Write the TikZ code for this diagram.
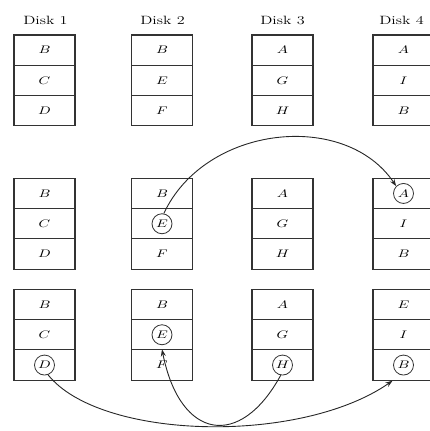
\documentclass[tikz,border=0pt]{standalone}
\usepackage{graphicx}
\usetikzlibrary{arrows.meta}

% widened lettering used throughout
\newcommand\widetext[1]{\scalebox{1.35}[1]{#1}}
\newcommand\lt[1]{\widetext{$#1$}}

\tikzset{
  cell/.style={draw=black!80, line width=1.1pt, minimum width=61pt,
    minimum height=30.3pt, inner sep=0pt,
    font=\fontsize{10.5}{12}\selectfont, text=black},
  ring/.style={circle, draw=black!80, line width=0.8pt, minimum size=20pt,
    inner sep=0pt, font=\fontsize{10.5}{12}\selectfont, text=black},
  disklabel/.style={font=\fontsize{12}{14}\selectfont, text=black},
  link/.style={draw=black!85, line width=0.9pt,
    -{Stealth[length=7pt,width=5pt]}}
}

\begin{document}
\begin{tikzpicture}[x=1pt,y=-1pt]
\clip (0,0) rectangle (430,431);

% disk headers
\foreach \c/\x in {1/45.5,2/162.5,3/282.5,4/401.5}
  \node[disklabel] (h\c) at (\x,20) {\widetext{Disk \c}};

% initial layout
\foreach \c/\x/\p/\q/\r in {1/44.5/B/C/D, 2/162/B/E/F, 3/282.5/A/G/H, 4/403.5/A/I/B} {
  \node[cell] (t\c a) at (\x,50.15)  {\lt{\p}};
  \node[cell] (t\c b) at (\x,80.45)  {\lt{\q}};
  \node[cell] (t\c c) at (\x,110.75) {\lt{\r}};
}

% second layout: E on disk 2 copied to disk 4
\foreach \c/\x/\p/\q/\r in {1/44.5/B/C/D, 3/282.5/A/G/H} {
  \node[cell] (m\c a) at (\x,193.45) {\lt{\p}};
  \node[cell] (m\c b) at (\x,223.75) {\lt{\q}};
  \node[cell] (m\c c) at (\x,254.05) {\lt{\r}};
}
\node[cell] (m2a) at (162,193.45) {\lt{B}};
\node[cell] (m2b) at (162,223.75) {};
\node[ring] (mE)  at (m2b.center) {\lt{E}};
\node[cell] (m2c) at (162,254.05) {\lt{F}};
\node[cell] (m4a) at (403.5,193.45) {};
\node[ring] (mA)  at (m4a.center) {\lt{A}};
\node[cell] (m4b) at (403.5,223.75) {\lt{I}};
\node[cell] (m4c) at (403.5,254.05) {\lt{B}};

% third layout
\node[cell] (b1a) at (44.5,304.45) {\lt{B}};
\node[cell] (b1b) at (44.5,334.75) {\lt{C}};
\node[cell] (b1c) at (44.5,365.05) {};
\node[ring] (bD)  at (b1c.center) {\lt{D}};

\node[cell] (b2a) at (162,304.45) {\lt{B}};
\node[cell] (b2b) at (162,334.75) {};
\node[ring] (bE)  at (b2b.center) {\lt{E}};
\node[cell] (b2c) at (162,365.05) {\lt{F}};

\node[cell] (b3a) at (282.5,304.45) {\lt{A}};
\node[cell] (b3b) at (282.5,334.75) {\lt{G}};
\node[cell] (b3c) at (282.5,365.05) {};
\node[ring] (bH)  at (b3c.center) {\lt{H}};

\node[cell] (b4a) at (403.5,304.45) {\lt{E}};
\node[cell] (b4b) at (403.5,334.75) {\lt{I}};
\node[cell] (b4c) at (403.5,365.05) {};
\node[ring] (bB)  at (b4c.center) {\lt{B}};

% moves
\draw[link] (mE.80) .. controls (205,125) and (345,110) .. (mA.135);
\draw[link] (bD.290) .. controls (100,440) and (300,445) .. ([xshift=-11pt]b4c.south);
\draw[link] (bH.260) .. controls (240,450) and (180,440) .. (b2c.north);
\end{tikzpicture}
\end{document}
